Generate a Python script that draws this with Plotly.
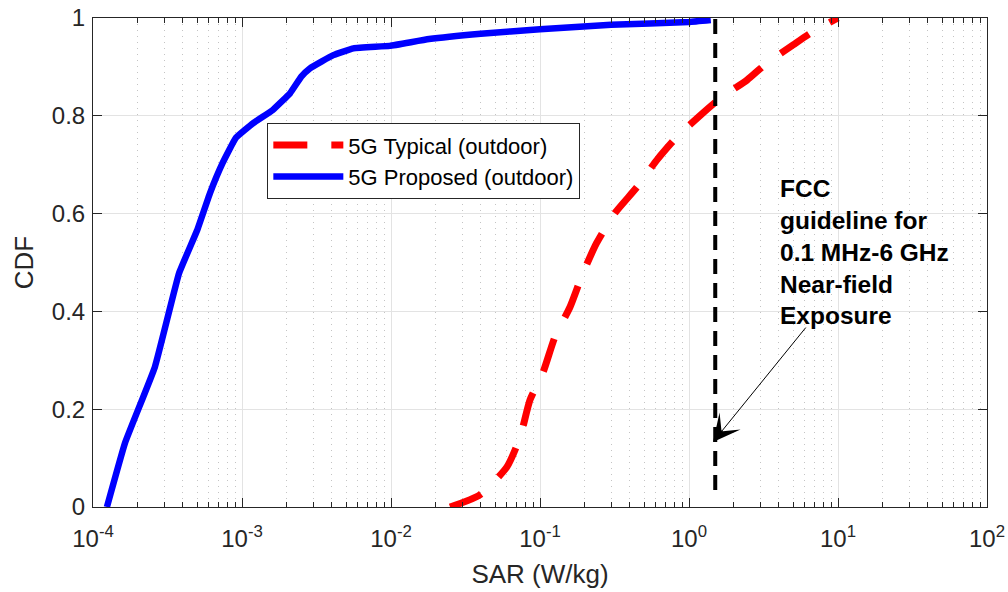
import math
import plotly.graph_objects as go

# ---- data ----
typical_sar = [0.0249, 0.0395, 0.06, 0.0735, 0.0857, 0.105, 0.126, 0.159, 0.194, 0.24,
               0.318, 0.447, 0.61, 0.83, 1.18, 1.62, 2.45, 3.33, 5.0, 6.7, 10.0]
typical_cdf = [0.0, 0.025, 0.082, 0.143, 0.219, 0.276, 0.348, 0.409, 0.478, 0.54,
               0.601, 0.654, 0.71, 0.757, 0.80, 0.836, 0.873, 0.908, 0.945, 0.971, 1.0]

proposed_sar = [1.24e-4, 1.64e-4, 2.6e-4, 3.78e-4, 5.0e-4, 6.1e-4, 7.4e-4, 9.1e-4,
                1.19e-3, 1.61e-3, 2.1e-3, 2.5e-3, 2.86e-3, 4.1e-3, 5.6e-3, 9.8e-3,
                1.8e-2, 4.0e-2, 0.1, 0.3, 1.0, 1.4]
proposed_cdf = [0.0, 0.131, 0.286, 0.478, 0.566, 0.642, 0.703, 0.755,
                0.785, 0.812, 0.846, 0.88, 0.897, 0.924, 0.938, 0.943,
                0.957, 0.968, 0.977, 0.986, 0.992, 0.996]

fcc_limit = 1.5
fcc_line_cdf = [0.035, 1.0]

series_names = ["5G Typical (outdoor)", "5G Proposed (outdoor)"]
x_tickvals = [1e-4, 1e-3, 1e-2, 1e-1, 1e0, 1e1, 1e2]
x_ticktext = ["10<sup>-4</sup>", "10<sup>-3</sup>", "10<sup>-2</sup>", "10<sup>-1</sup>",
              "10<sup>0</sup>", "10<sup>1</sup>", "10<sup>2</sup>"]
y_tickvals = [0, 0.2, 0.4, 0.6, 0.8, 1.0]
y_ticktext = ["0", "0.2", "0.4", "0.6", "0.8", "1"]
annotation_text = "<b>FCC<br>guideline for<br>0.1 MHz-6 GHz<br>Near-field<br>Exposure</b>"
x_title = "SAR (W/kg)"
y_title = "CDF"

minor_vals = [m * 10 ** k for k in range(-4, 2) for m in range(2, 10)]

FONT = "Liberation Sans, Arial, Helvetica, sans-serif"
TXT = "#262626"

fig = go.Figure()
fig.add_trace(go.Scatter(x=typical_sar, y=typical_cdf, mode="lines", name=series_names[0],
                         line=dict(color="#ff0000", width=7, dash="34px,24px",
                                   shape="spline", smoothing=0.6)))
fig.add_trace(go.Scatter(x=proposed_sar, y=proposed_cdf, mode="lines", name=series_names[1],
                         line=dict(color="#0000ff", width=6.5, shape="spline", smoothing=0.3)))
fig.add_trace(go.Scatter(x=[fcc_limit, fcc_limit], y=fcc_line_cdf, mode="lines",
                         showlegend=False, line=dict(color="black", width=4, dash="15px,9px")))

fig.add_annotation(x=math.log10(1.45), y=0.133, ax=0.792, ay=0.37, axref="x", ayref="y",
                   xref="x", yref="y", text="", showarrow=True, arrowhead=3,
                   arrowsize=4.5, arrowwidth=1, arrowcolor="black")
fig.add_annotation(x=0.597, y=0.521, xref="x", yref="y", text=annotation_text,
                   showarrow=False, xanchor="left", yanchor="middle", align="left",
                   font=dict(family=FONT, size=24.5, color="black"))

axis_common = dict(
    ticks="inside", ticklen=9, tickcolor=TXT, tickwidth=1,
    linecolor=TXT, linewidth=1, mirror="ticks", showline=True,
    showgrid=True, gridcolor="#e3e3e3", gridwidth=1, zeroline=False,
    tickfont=dict(family=FONT, size=24, color=TXT), automargin=False,
)

fig.update_xaxes(type="log", range=[-4, 2], tickvals=x_tickvals, ticktext=x_ticktext,
                 ticklabelstandoff=10,
                 title=dict(text=x_title, font=dict(family=FONT, size=26, color=TXT), standoff=14),
                 minor=dict(tickvals=minor_vals, ticks="inside", ticklen=5, tickcolor=TXT,
                            showgrid=True, gridcolor="#c4c4c4", griddash="1px,5px", gridwidth=1),
                 **axis_common)
fig.update_yaxes(range=[0, 1], tickvals=y_tickvals, ticktext=y_ticktext,
                 ticklabelstandoff=2,
                 title=dict(text=y_title, font=dict(family=FONT, size=26, color=TXT), standoff=10),
                 **axis_common)

fig.update_layout(
    width=1008, height=592, autosize=False,
    margin=dict(l=93, r=21, t=18, b=85),
    paper_bgcolor="white", plot_bgcolor="white",
    font=dict(family=FONT, color=TXT),
    legend=dict(x=0.195, y=0.785, xanchor="left", yanchor="top",
                bgcolor="white", bordercolor=TXT, borderwidth=1,
                font=dict(family=FONT, size=22, color="black"),
                itemwidth=70, tracegroupgap=0),
)

fig.write_html("out.html")
